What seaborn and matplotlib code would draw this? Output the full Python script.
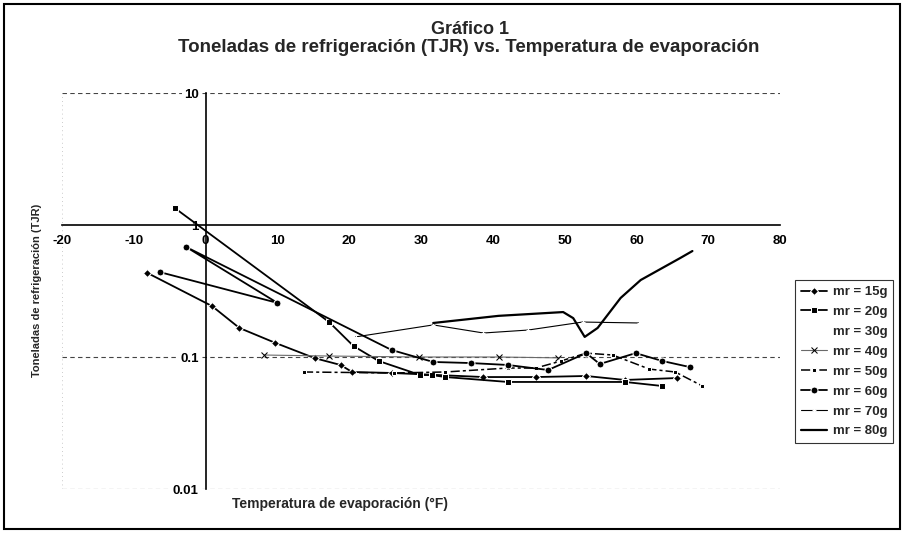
import matplotlib
matplotlib.use("Agg")
import matplotlib.pyplot as plt
import seaborn as sns
from matplotlib.patches import Rectangle

sns.set_theme(style="white")
plt.rcParams['font.family'] = ['Liberation Sans', 'DejaVu Sans']
plt.rcParams['font.weight'] = 'bold'

# Temperatura de evaporación (°F) y toneladas de refrigeración (TJR) por carga de refrigerante
temp_15g = [-8.1, 0.9, 4.7, 9.7, 15.2, 18.8, 20.4, 25.9, 38.7, 46.0, 53.0, 58.4, 65.7]
tjr_15g = [0.433, 0.243, 0.166, 0.128, 0.098, 0.087, 0.077, 0.0757, 0.0705, 0.0705, 0.0718, 0.067, 0.0693]

temp_20g = [-4.3, 17.2, 20.6, 24.1, 29.9, 31.5, 33.4, 42.1, 58.4, 63.6]
tjr_20g = [1.345, 0.184, 0.121, 0.0933, 0.073, 0.073, 0.0705, 0.0647, 0.0647, 0.0603]

temp_30g = []
tjr_30g = []

temp_40g = [8.2, 17.2, 29.7, 40.8, 49.1]
tjr_40g = [0.1035, 0.1017, 0.100, 0.100, 0.0985]

temp_50g = [13.7, 26.2, 33.4, 42.1, 46.0, 49.5, 53.0, 56.7, 61.8, 65.4, 69.2]
tjr_50g = [0.077, 0.0757, 0.077, 0.0825, 0.0825, 0.0933, 0.107, 0.1035, 0.081, 0.077, 0.0603]

temp_60g = [-6.4, 10.0, -2.7, 25.9, 31.7, 36.9, 42.1, 47.7, 53.0, 54.9, 59.9, 63.6, 67.4]
tjr_60g = [0.44, 0.257, 0.681, 0.113, 0.0917, 0.090, 0.087, 0.0797, 0.107, 0.0885, 0.107, 0.0933, 0.084]

temp_70g = [20.9, 31.7, 38.7, 44.9, 52.5, 60.4]
tjr_70g = [0.142, 0.175, 0.152, 0.160, 0.184, 0.181]

temp_80g = [31.7, 40.8, 49.8, 51.2, 52.8, 54.6, 57.8, 60.6, 66.1, 67.8]
tjr_80g = [0.181, 0.205, 0.219, 0.197, 0.142, 0.166, 0.280, 0.383, 0.562, 0.635]

series_labels = ["mr = 15g", "mr = 20g", "mr = 30g", "mr = 40g",
                 "mr = 50g", "mr = 60g", "mr = 70g", "mr = 80g"]
x_ticks = [-20, -10, 0, 10, 20, 30, 40, 50, 60, 70, 80]
y_ticks = [0.01, 0.1, 1, 10]
y_tick_labels = ["0.01", "0.1", "1", "10"]

series = [
    (temp_15g, tjr_15g, dict(color="black", lw=1.3, marker="D", ms=4, linestyle="-")),
    (temp_20g, tjr_20g, dict(color="black", lw=1.3, marker="s", ms=4.5, linestyle="-")),
    (temp_30g, tjr_30g, dict(color="white", lw=1.0, marker=None, linestyle="-")),
    (temp_40g, tjr_40g, dict(color="#6a6a6a", lw=0.8, marker="x", ms=4, mec="black", linestyle="-")),
    (temp_50g, tjr_50g, dict(color="black", lw=1.1, marker="s", ms=3.5, linestyle=(0, (6, 2, 2, 2)))),
    (temp_60g, tjr_60g, dict(color="black", lw=1.3, marker="o", ms=5, linestyle="-")),
    (temp_70g, tjr_70g, dict(color="black", lw=0.8, marker="+", ms=3.5, linestyle="-")),
    (temp_80g, tjr_80g, dict(color="black", lw=1.6, marker=None, linestyle="-")),
]

fig = plt.figure(figsize=(9.04, 5.33), dpi=100)
ax = fig.add_axes([62 / 904, 1 - 489 / 533, (780 - 62) / 904, (489 - 93) / 533])

handles = []
for (xs, ys, style), label in zip(series, series_labels):
    if len(xs):
        sns.lineplot(x=xs, y=ys, sort=False, estimator=None, ax=ax, legend=False, **style)
        handles.append(ax.lines[-1])
    else:
        line, = ax.plot(xs, ys, **style)
        handles.append(line)

ax.set_yscale("log")
ax.set_xlim(-20, 80)
ax.set_ylim(0.01, 10)
ax.minorticks_off()

# dashed value gridlines and faint plot-area border
for yv in (10, 0.1, 0.01):
    ax.axhline(yv, color="#444444", lw=0.8, linestyle=(0, (4, 3)), zorder=1)
for xv in (-20, 80):
    ax.axvline(xv, color="#bbbbbb", lw=0.6, linestyle=(0, (1, 4)), zorder=1)

# axes crossing at x = 0 and y = 1
for side in ("top", "right"):
    ax.spines[side].set_visible(False)
ax.spines["left"].set_position(("data", 0))
ax.spines["bottom"].set_position(("data", 1))
for side in ("left", "bottom"):
    ax.spines[side].set_color("black")
    ax.spines[side].set_linewidth(1.2)
ax.set_axisbelow(False)

ax.set_xticks(x_ticks)
ax.set_xticklabels([str(t) for t in x_ticks])
ax.set_yticks(y_ticks)
ax.set_yticklabels(y_tick_labels)
ax.tick_params(axis="x", direction="inout", length=4, width=1, pad=5,
               labelsize=9.5, colors="black")
ax.tick_params(axis="y", direction="inout", length=4, width=1, pad=3,
               labelsize=9.5, colors="black")
for lab in ax.get_xticklabels() + ax.get_yticklabels():
    lab.set_fontweight("bold")
for lab in ax.get_yticklabels():
    if lab.get_text() != "1":
        lab.set_bbox(dict(facecolor="white", edgecolor="none", pad=1))

ax.set_xlabel("")
ax.set_ylabel("")
fig.text(340 / 904, 1 - 504 / 533, "Temperatura de evaporación (°F)",
         ha="center", va="center", fontsize=10, fontweight="bold")
fig.text(37 / 904, 1 - 290 / 533, "Toneladas de refrigeración (TJR)",
         ha="center", va="center", rotation=90, fontsize=8, fontweight="bold")

fig.text(470 / 904, 1 - 30 / 533, "Gráfico 1", ha="center", va="center",
         fontsize=13, fontweight="bold")
fig.text(469 / 904, 1 - 48 / 533,
         "Toneladas de refrigeración (TJR) vs. Temperatura de evaporación",
         ha="center", va="center", fontsize=13.5, fontweight="bold")

leg = fig.legend(handles, series_labels, loc="upper left",
                 bbox_to_anchor=(795 / 904, 1 - 280 / 533), borderaxespad=0,
                 frameon=True, fancybox=False, fontsize=9.5, handlelength=2.0,
                 labelspacing=0.58, borderpad=0.45, handletextpad=0.4)
leg.get_frame().set_edgecolor("black")
leg.get_frame().set_linewidth(0.8)
for t in leg.get_texts():
    t.set_fontweight("bold")

fig.patches.append(Rectangle((4 / 904, 4 / 533), 896 / 904, 525 / 533,
                             transform=fig.transFigure, fill=False,
                             edgecolor="black", lw=1.5))

fig.savefig("out.png", dpi=100, facecolor="white")
